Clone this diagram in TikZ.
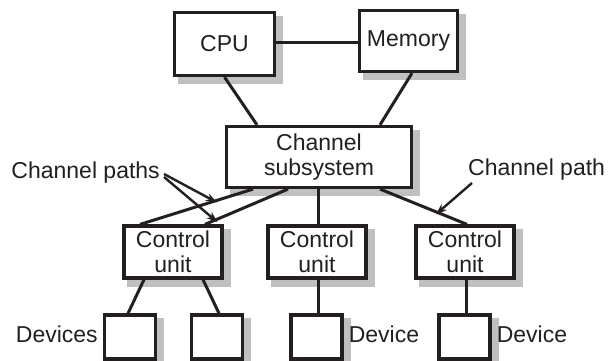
\documentclass[tikz,border=0pt]{standalone}
\usepackage{fontspec}
\setmainfont{Liberation Sans}
\usetikzlibrary{positioning,backgrounds,arrows.meta}
\definecolor{shadowgray}{RGB}{192,192,192}
\definecolor{ink}{RGB}{35,31,32}
\begin{document}
\begin{tikzpicture}[
        x=1pt, y=-1pt,
        every node/.style={font=\fontsize{23}{25}\selectfont, text=ink},
        box/.style={
            draw=ink,
            line width=3.2pt,
            fill=white,
            align=center,
            inner sep=2pt
        },
        dev/.style={box, minimum width=51pt, minimum height=44pt},
        unit/.style={box, minimum width=98pt, minimum height=52pt},
        link/.style={draw=ink, line width=3pt},
        arrow/.style={draw=ink, -{Stealth[length=11pt,width=8pt]}, line width=2.4pt}
    ]

    \useasboundingbox (0,0) rectangle (608,361);

    % Top level
    \node[box, minimum width=100pt, minimum height=63pt] (cpu) at (224.5,44) {CPU};
    \node[box, minimum width=98pt, minimum height=61pt] (mem) at (408.5,41) {Memory};
    \node[box, minimum width=185pt, minimum height=61pt] (chan) at (319,157) {Channel\\subsystem};

    % Control units
    \node[unit] (cu1) at (173,252) {Control\\unit};
    \node[unit] (cu2) at (317,252) {Control\\unit};
    \node[unit] (cu3) at (465,252) {Control\\unit};

    % Devices
    \node[dev] (dev1) at (130,337) {};
    \node[dev] (dev2) at (217,337) {};
    \node[dev] (dev3) at (316.5,337) {};
    \node[dev] (dev4) at (464.5,337) {};

    % Shadows
    \begin{scope}[on background layer]
        \foreach \n in {cpu,mem,chan,cu1,cu2,cu3,dev1,dev2,dev3,dev4}
            \fill[shadowgray] ([shift={(5,5)}]\n.north west) rectangle ([shift={(7,7)}]\n.south east);
    \end{scope}

    % Connections
    \draw[link] (cpu.east |- 0,43) -- (mem.west |- 0,43);
    \draw[link] (cpu.south) -- ([xshift=-62pt]chan.north);
    \draw[link] ([xshift=3.5pt]mem.south) -- ([xshift=61pt]chan.north);
    \draw[link] ([xshift=-66pt]chan.south) -- coordinate[pos=0.32] (pa) ([xshift=-33pt]cu1.north);
    \draw[link] ([xshift=-31pt]chan.south) -- coordinate[pos=0.85] (pb) ([xshift=32pt]cu1.north);
    \draw[link] ([xshift=-1pt]chan.south) -- ([xshift=1pt]cu2.north);
    \draw[link] ([xshift=61pt]chan.south) -- coordinate[pos=0.655] (pc) ([xshift=2pt]cu3.north);
    \draw[link] ([xshift=-29pt]cu1.south) -- ([xshift=-2pt]dev1.north);
    \draw[link] ([xshift=30pt]cu1.south) -- ([xshift=2pt]dev2.north);
    \draw[link] ([xshift=1pt]cu2.south) -- ([xshift=1.5pt]dev3.north);
    \draw[link] ([xshift=1pt]cu3.south) -- ([xshift=1.5pt]dev4.north);

    % Labels
    \node[anchor=east, inner sep=0pt] (paths) at (160,173) {Channel paths};
    \node[anchor=west, inner sep=0pt] (path) at (468,170) {Channel path};
    \node[left=5pt of dev1, yshift=3pt, inner sep=0pt] (devs) {Devices};
    \node[right=5pt of dev3, yshift=3pt, inner sep=0pt] (devc) {Device};
    \node[right=5pt of dev4, yshift=3pt, inner sep=0pt] (devd) {Device};

    % Arrows
    \draw[arrow] ([xshift=4pt,yshift=-1pt]paths.east) -- ([yshift=-2pt]pa);
    \draw[arrow] ([xshift=4pt,yshift=-4pt]paths.east) -- ([yshift=-3pt]pb);
    \draw[arrow] ([xshift=4pt,yshift=-13pt]path.west) -- ([xshift=-1pt,yshift=-2pt]pc);

\end{tikzpicture}
\end{document}
